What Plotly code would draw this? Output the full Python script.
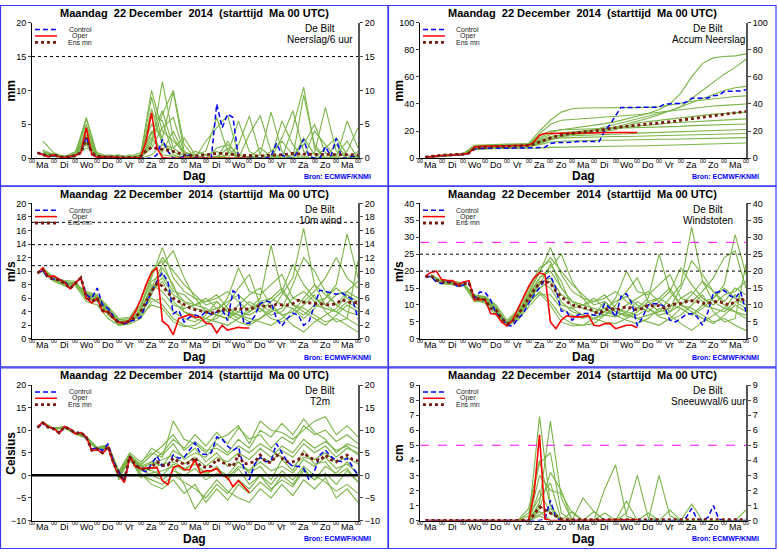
import numpy as np
import plotly.graph_objects as go

# tijdas in dagen na Ma 22 dec 00 UTC
T6 = np.arange(1, 61) * 0.25     # control / oper / ens mn (6-uurs)
T12 = np.arange(1, 31) * 0.5     # ensembleleden (12-uurs)

DAGEN = ['Ma', 'Di', 'Wo', 'Do', 'Vr', 'Za', 'Zo', 'Ma', 'Di', 'Wo', 'Do', 'Vr', 'Za', 'Zo', 'Ma']
UUR_LABELS = ['00'] * 16

# ---- Neerslag/6 uur (mm)
NEERSLAG_CONTROL = [0.8, 0.6, 0.2, 0.4, 0.2, 0.1, 0.2, 0.4, 0.9, 3.2,
                    0.6, 0.3, 0.2, 0.2, 0.1, 0.1, 0.0, 0.0, 0.0, 0.0,
                    0.0, 0.0, 0.5, 2.8, 1.0, 0.0, 0.0, 0.3, 0.5, 0.1,
                    0.0, 0.0, 0.0, 8.0, 4.5, 6.5, 6.0, 0.0, 0.0, 0.0,
                    0.0, 0.0, 0.0, 0.3, 2.2, 0.5, 0.0, 0.0, 1.0, 2.8,
                    0.2, 0.0, 0.0, 1.7, 0.3, 2.9, 0.0, 0.0, 0.3, 0.2]
NEERSLAG_OPER = [0.8, 0.5, 0.2, 0.5, 0.2, 0.1, 0.2, 0.4, 0.8, 4.5,
                 0.5, 0.1, 0.2, 0.2, 0.1, 0.1, 0.0, 0.0, 0.0, 0.1,
                 2.5, 6.7, 1.5, 0.1, 0.0, 0.0, 0.0, 0.0, 0.0, 0.0,
                 0.0, 0.0, 0.0, 0.1, 0.1, 0.1, 0.0, 0.0, 0.0, 0.0]
NEERSLAG_ENSMN = [0.8, 0.6, 0.3, 0.5, 0.2, 0.1, 0.2, 0.4, 0.8, 3.0,
                  0.8, 0.3, 0.2, 0.2, 0.2, 0.2, 0.1, 0.1, 0.1, 0.3,
                  1.1, 1.6, 1.5, 1.3, 1.2, 1.0, 0.7, 0.5, 0.4, 0.3,
                  0.4, 0.5, 0.7, 0.7, 0.7, 0.6, 0.5, 0.4, 0.4, 0.4,
                  0.3, 0.3, 0.4, 0.4, 0.5, 0.5, 0.6, 0.7, 0.6, 0.6,
                  0.5, 0.6, 0.6, 0.5, 0.5, 0.6, 0.5, 0.5, 0.5, 0.5]
NEERSLAG_LEDEN = [
    [0.8, 0.6, 0.2, 0.5, 4.0, 0.2, 0.1, 0.0, 0.0, 0.2, 3.5, 7.0, 1.5, 0.3, 0.0, 0.0, 1.5, 2.0, 0.5, 0.0, 0.0, 1.0, 2.5, 0.5, 0.0, 0.0, 1.5, 3.0, 0.5, 0.2],
    [1.0, 0.4, 0.3, 0.8, 6.0, 0.5, 0.3, 0.2, 0.1, 0.5, 10.0, 4.0, 2.5, 1.0, 0.2, 0.0, 0.0, 0.5, 5.5, 1.0, 0.0, 0.0, 0.0, 4.5, 10.5, 1.5, 0.0, 0.0, 0.0, 0.0],
    [0.5, 0.7, 0.1, 0.3, 2.5, 0.4, 0.0, 0.0, 0.5, 0.0, 7.3, 2.0, 1.0, 0.0, 0.0, 0.5, 1.0, 0.0, 0.0, 0.3, 0.0, 0.0, 0.0, 0.5, 2.0, 5.0, 0.8, 0.0, 1.0, 4.5],
    [0.7, 0.3, 0.0, 0.2, 3.5, 0.1, 0.3, 0.5, 0.0, 0.0, 2.0, 11.3, 3.0, 0.5, 0.0, 0.0, 0.0, 0.0, 0.0, 0.0, 1.5, 0.3, 0.0, 0.0, 0.0, 0.0, 0.0, 0.5, 2.5, 0.0],
    [2.5, 0.8, 0.2, 1.0, 5.0, 0.3, 0.0, 0.0, 0.3, 0.8, 5.0, 3.0, 9.8, 1.0, 0.0, 0.0, 0.0, 2.5, 0.0, 0.0, 0.0, 0.0, 0.5, 0.0, 0.0, 0.8, 7.5, 1.0, 0.0, 0.3],
    [0.4, 0.2, 0.1, 0.5, 2.0, 0.0, 0.5, 0.3, 0.0, 0.1, 1.5, 4.5, 6.0, 0.8, 0.5, 1.0, 6.0, 1.0, 0.0, 0.0, 0.5, 6.8, 1.0, 0.0, 0.0, 0.0, 0.0, 0.0, 0.0, 1.0],
    [0.6, 0.5, 0.2, 0.4, 1.5, 0.8, 0.2, 0.0, 0.0, 0.5, 4.0, 0.5, 0.2, 0.0, 1.0, 0.5, 0.0, 0.0, 0.0, 3.5, 6.3, 1.0, 0.0, 0.0, 9.3, 2.0, 0.0, 0.0, 0.0, 0.0],
    [0.9, 0.4, 0.1, 0.2, 3.0, 0.2, 0.1, 0.4, 0.2, 0.3, 6.5, 5.5, 0.5, 0.0, 0.0, 0.0, 0.0, 0.0, 0.0, 0.0, 0.0, 0.0, 3.0, 7.0, 1.0, 0.0, 0.0, 0.0, 5.5, 1.5],
    [0.3, 0.6, 0.0, 0.7, 2.2, 0.3, 0.2, 0.0, 0.0, 0.0, 0.5, 2.0, 1.5, 3.0, 0.5, 0.0, 0.3, 0.0, 2.0, 6.2, 0.5, 0.0, 0.0, 0.0, 0.0, 0.0, 0.0, 0.0, 0.0, 0.0],
    [0.5, 0.3, 0.3, 0.3, 4.5, 0.6, 0.0, 0.0, 0.0, 0.2, 9.0, 2.5, 0.0, 0.0, 0.0, 0.0, 0.0, 1.5, 0.0, 0.0, 0.0, 0.0, 0.0, 0.0, 3.0, 0.5, 0.0, 2.0, 0.0, 0.0],
    [1.2, 0.5, 0.2, 0.6, 3.2, 0.2, 0.3, 0.0, 0.0, 0.0, 2.5, 6.5, 10.0, 2.0, 0.0, 0.0, 0.0, 0.0, 0.0, 0.0, 0.0, 0.0, 0.0, 0.0, 0.0, 4.0, 2.0, 0.0, 0.0, 0.0],
    [0.6, 0.7, 0.1, 0.3, 5.8, 0.4, 0.0, 0.0, 0.0, 0.0, 3.0, 1.0, 4.0, 0.5, 0.0, 2.5, 4.5, 6.3, 0.5, 0.0, 0.0, 0.0, 5.5, 2.0, 0.0, 0.0, 0.0, 0.0, 0.0, 0.0],
]

# ---- Accum Neerslag (mm)
ACCUM_CONTROL = [0.8, 1.2, 1.4, 1.8, 2.0, 2.1, 2.3, 2.7, 3.5, 6.7,
                 7.2, 7.3, 7.4, 7.5, 7.5, 7.5, 7.5, 7.5, 7.5, 7.5,
                 7.5, 7.5, 8.0, 10.8, 11.5, 11.5, 11.5, 11.8, 12.3, 12.4,
                 12.4, 12.4, 12.4, 20.4, 24.9, 31.4, 37.4, 37.4, 37.4, 37.4,
                 37.4, 37.4, 37.4, 37.7, 39.9, 40.4, 40.4, 40.4, 41.4, 44.2,
                 44.4, 44.4, 44.4, 46.1, 46.4, 49.3, 49.3, 49.3, 49.6, 50.5]
ACCUM_OPER = [0.8, 1.3, 1.5, 2.0, 2.2, 2.3, 2.5, 2.9, 3.7, 8.2,
              8.7, 8.8, 9.0, 9.2, 9.3, 9.4, 9.4, 9.4, 9.4, 9.5,
              12.0, 17.0, 18.2, 18.3, 18.3, 18.3, 18.3, 18.4, 18.5, 18.5,
              18.6, 18.7, 18.8, 18.8, 18.9, 19.0, 19.0, 19.0, 19.0, 19.0]
ACCUM_ENSMN = [0.8, 1.4, 1.7, 2.2, 2.4, 2.5, 2.7, 3.1, 3.9, 6.9,
               7.7, 8.0, 8.2, 8.4, 8.6, 8.8, 8.9, 9.0, 9.1, 9.4,
               10.5, 12.1, 13.6, 14.9, 16.1, 17.1, 17.8, 18.3, 18.7, 19.0,
               19.4, 19.9, 20.6, 21.3, 22.0, 22.6, 23.1, 23.5, 23.9, 24.3,
               24.6, 24.9, 25.3, 25.7, 26.2, 26.7, 27.3, 28.0, 28.6, 29.2,
               29.7, 30.3, 30.9, 31.4, 31.9, 32.5, 33.0, 33.5, 34.0, 34.5]
ACCUM_LEDEN = [
    [1.0, 1.5, 2.0, 2.8, 6.5, 7.0, 7.0, 7.2, 7.2, 7.3, 7.5, 8.0, 8.2, 8.3, 8.3, 8.5, 8.5, 8.8, 9.0, 9.0, 9.2, 9.5, 9.8, 10.0, 10.2, 10.4, 10.6, 10.8, 11.0, 11.2],
    [1.2, 1.8, 2.2, 3.0, 7.5, 8.0, 8.0, 8.2, 8.2, 8.5, 10.0, 12.0, 12.5, 12.8, 13.0, 13.0, 13.2, 13.2, 13.5, 13.5, 13.8, 14.0, 14.0, 14.2, 14.5, 14.5, 14.8, 15.0, 15.0, 15.2],
    [0.8, 1.6, 2.0, 2.6, 7.0, 7.5, 7.8, 8.0, 8.0, 8.2, 12.0, 14.0, 15.0, 15.3, 15.5, 15.5, 15.8, 16.0, 16.0, 16.2, 16.5, 16.8, 17.0, 17.0, 17.2, 17.5, 17.8, 18.0, 18.0, 18.2],
    [1.0, 1.5, 1.8, 2.5, 8.0, 8.5, 8.8, 8.8, 9.0, 9.2, 11.0, 13.5, 16.0, 16.5, 16.8, 17.0, 17.0, 17.5, 18.0, 18.5, 18.8, 19.0, 19.2, 19.5, 20.0, 20.2, 20.5, 20.8, 21.0, 21.2],
    [1.5, 2.0, 2.5, 3.5, 9.0, 9.5, 9.5, 9.8, 10.0, 10.5, 17.0, 20.0, 21.0, 21.2, 21.5, 21.5, 21.8, 22.0, 22.0, 22.3, 22.5, 22.8, 23.0, 23.5, 24.0, 24.3, 24.5, 24.8, 25.0, 25.2],
    [1.2, 1.8, 2.2, 3.2, 8.5, 9.0, 9.2, 9.2, 9.5, 9.8, 14.0, 17.5, 19.0, 19.5, 19.8, 20.0, 21.0, 22.5, 23.0, 23.5, 24.0, 25.0, 26.0, 26.5, 27.0, 27.5, 28.0, 28.5, 28.8, 29.0],
    [0.9, 1.4, 2.0, 2.8, 7.8, 8.2, 8.5, 8.5, 8.8, 9.0, 13.0, 16.0, 17.0, 17.5, 18.0, 18.5, 20.0, 21.0, 24.0, 26.0, 27.0, 28.0, 29.0, 29.5, 31.0, 32.0, 32.5, 33.0, 33.5, 34.0],
    [1.1, 1.7, 2.3, 3.0, 8.2, 8.8, 9.0, 9.2, 9.5, 9.8, 18.0, 25.0, 28.0, 28.5, 29.0, 29.5, 30.0, 30.5, 31.0, 32.0, 33.0, 34.0, 35.0, 35.5, 36.5, 37.5, 38.5, 39.0, 39.5, 40.0],
    [1.3, 1.9, 2.5, 3.3, 9.5, 10.0, 10.2, 10.5, 10.5, 11.0, 20.0, 28.0, 34.0, 36.5, 37.0, 37.0, 37.0, 37.0, 37.0, 37.2, 37.5, 38.0, 39.0, 40.5, 42.0, 43.0, 44.0, 44.5, 45.5, 46.0],
    [1.0, 1.6, 2.1, 2.9, 8.0, 8.5, 8.8, 9.0, 9.2, 9.5, 12.5, 15.0, 17.5, 19.0, 20.0, 21.0, 23.0, 25.0, 27.0, 29.0, 31.0, 33.0, 35.0, 38.0, 41.0, 44.0, 47.0, 50.0, 52.0, 53.0],
    [0.8, 1.3, 1.8, 2.5, 7.2, 7.8, 8.0, 8.0, 8.2, 8.5, 11.0, 14.0, 16.0, 18.0, 19.0, 20.0, 21.5, 23.0, 25.0, 27.0, 29.5, 32.0, 35.0, 38.0, 44.0, 50.0, 56.0, 62.0, 67.0, 73.0],
    [1.4, 2.0, 2.6, 3.4, 9.0, 9.5, 9.8, 10.0, 10.2, 10.5, 15.0, 19.0, 21.0, 22.0, 23.0, 24.0, 25.5, 27.0, 29.0, 31.0, 33.0, 36.0, 40.0, 48.0, 60.0, 70.0, 74.0, 75.0, 75.5, 77.0],
]

# ---- 10m wind (m/s)
WIND_CONTROL = [9.8, 10.0, 9.0, 8.9, 8.7, 8.5, 7.5, 8.3, 9.0, 6.5,
                6.0, 7.5, 5.0, 4.5, 3.3, 2.5, 2.2, 2.6, 2.8, 3.2,
                5.0, 7.0, 8.5, 9.8, 8.5, 3.7, 4.2, 2.5, 3.2, 3.5,
                3.3, 4.0, 3.6, 4.0, 4.3, 2.7, 7.1, 6.5, 2.3, 2.3,
                3.4, 5.2, 5.6, 5.4, 3.0, 1.9, 3.0, 3.8, 3.5, 2.0,
                2.6, 5.0, 7.2, 7.0, 6.8, 6.6, 6.8, 6.3, 5.8, 3.0]
WIND_OPER = [9.7, 10.5, 9.2, 9.3, 8.8, 8.3, 7.4, 8.3, 9.0, 6.0,
             5.3, 6.0, 4.0, 4.0, 3.0, 2.4, 2.4, 2.8, 4.0, 5.8,
             8.0, 9.8, 10.5, 2.6, 2.0, 0.6, 3.0, 3.3, 3.6, 3.2,
             3.2, 2.3, 2.2, 0.9, 2.0, 1.3, 1.5, 1.7, 1.6, 1.6]
WIND_ENSMN = [9.7, 10.2, 9.0, 8.8, 8.7, 8.2, 7.4, 8.2, 9.0, 6.3,
              5.5, 6.0, 4.2, 4.0, 3.0, 2.4, 2.4, 2.6, 3.2, 4.0,
              5.5, 7.0, 8.2, 7.8, 6.8, 6.0, 5.5, 5.0, 4.6, 4.3,
              4.2, 4.0, 3.8, 4.0, 4.4, 4.2, 4.3, 4.6, 4.3, 4.4,
              4.6, 5.0, 4.8, 4.8, 5.1, 5.0, 5.0, 5.2, 5.7, 5.4,
              5.3, 5.3, 5.2, 5.1, 5.0, 5.2, 5.8, 5.5, 5.3, 5.4]
WIND_LEDEN = [
    [10.0, 8.6, 8.0, 8.0, 6.5, 6.2, 4.5, 2.8, 3.0, 5.0, 8.5, 9.5, 7.0, 6.5, 5.0, 4.5, 3.5, 3.0, 5.0, 6.5, 7.5, 5.0, 3.5, 4.0, 6.0, 8.0, 6.5, 5.0, 7.0, 6.0],
    [10.3, 9.0, 8.3, 8.3, 6.0, 5.5, 3.8, 2.2, 2.5, 3.5, 6.5, 10.5, 8.0, 4.0, 3.0, 2.5, 3.0, 4.5, 3.5, 2.5, 3.0, 4.0, 6.5, 9.0, 16.3, 8.0, 5.0, 4.0, 3.0, 2.0],
    [10.5, 8.9, 8.5, 8.1, 7.0, 6.5, 4.2, 2.5, 2.4, 4.5, 9.0, 13.5, 9.0, 7.0, 6.0, 5.5, 6.0, 7.0, 5.5, 4.0, 5.0, 6.0, 5.0, 4.5, 3.0, 4.5, 6.0, 8.0, 15.5, 9.0],
    [9.8, 8.7, 8.1, 8.4, 5.8, 5.8, 4.0, 2.0, 2.2, 3.0, 5.5, 6.0, 4.0, 3.0, 2.5, 3.5, 5.5, 4.0, 3.0, 4.5, 6.0, 13.8, 7.0, 5.0, 4.0, 3.0, 2.0, 3.5, 5.0, 4.0],
    [10.1, 8.8, 8.0, 8.0, 6.8, 6.3, 4.5, 2.6, 2.8, 4.2, 7.5, 11.0, 13.0, 9.0, 6.0, 4.0, 3.5, 3.0, 4.0, 5.5, 4.5, 3.0, 2.5, 3.5, 5.0, 6.5, 4.0, 2.5, 3.0, 11.5],
    [10.4, 9.1, 8.6, 8.5, 6.2, 5.9, 3.5, 2.3, 2.5, 3.8, 6.0, 5.0, 3.0, 2.0, 1.5, 2.0, 3.5, 5.0, 7.5, 9.5, 5.0, 4.0, 4.5, 8.0, 12.0, 10.0, 7.0, 5.0, 4.0, 3.5],
    [9.9, 8.5, 7.8, 7.8, 5.5, 5.0, 3.0, 2.0, 2.4, 4.0, 8.0, 7.0, 5.0, 4.5, 5.0, 6.0, 4.5, 3.5, 2.5, 2.0, 3.0, 4.5, 3.5, 2.0, 1.0, 2.5, 3.5, 4.5, 6.5, 5.5],
    [10.2, 8.8, 8.4, 8.2, 6.6, 6.4, 4.8, 3.0, 3.2, 5.5, 10.0, 11.5, 7.5, 5.5, 4.5, 4.0, 4.5, 5.5, 6.5, 5.0, 4.0, 5.5, 7.0, 11.0, 8.0, 6.0, 5.0, 6.5, 7.0, 8.5],
    [10.0, 8.6, 8.2, 8.0, 6.0, 5.7, 3.6, 2.4, 2.6, 4.2, 7.0, 8.5, 5.5, 4.0, 3.5, 3.0, 2.5, 2.0, 3.0, 4.0, 5.5, 6.0, 7.5, 5.0, 4.5, 3.5, 2.5, 3.0, 2.0, 1.0],
    [10.3, 9.0, 8.3, 8.3, 6.3, 6.0, 4.2, 2.5, 2.6, 3.5, 5.0, 4.5, 2.5, 1.8, 2.0, 3.0, 4.0, 6.0, 10.5, 7.0, 6.5, 8.0, 9.5, 6.0, 5.5, 7.0, 9.0, 12.0, 9.0, 7.5],
    [10.1, 8.7, 8.1, 8.1, 6.4, 6.1, 4.0, 2.3, 2.8, 4.8, 9.5, 12.0, 10.0, 8.0, 6.5, 5.0, 5.5, 4.0, 3.5, 3.0, 2.5, 2.0, 3.0, 4.5, 3.5, 5.0, 4.5, 4.0, 5.5, 4.5],
    [10.2, 8.8, 8.2, 8.2, 6.2, 6.0, 3.9, 2.6, 2.5, 4.0, 7.5, 9.0, 6.5, 5.5, 5.0, 5.5, 6.5, 4.5, 4.0, 3.5, 4.5, 3.5, 4.0, 6.0, 7.0, 5.5, 6.0, 7.5, 6.0, 5.0],
]

# ---- Windstoten (m/s)
STOOT_CONTROL = [18.3, 18.4, 16.8, 16.3, 16.8, 16.8, 15.3, 16.0, 16.5, 11.8,
                 13.8, 13.7, 11.5, 7.5, 6.5, 4.0, 3.8, 5.8, 7.5, 10.5,
                 13.0, 15.0, 17.5, 18.7, 15.0, 8.2, 8.0, 5.5, 7.0, 7.5,
                 7.5, 7.0, 7.0, 10.5, 9.0, 6.5, 12.5, 13.3, 10.5, 3.8,
                 6.5, 10.0, 10.4, 10.3, 9.5, 5.5, 5.0, 6.0, 7.2, 7.5,
                 6.5, 4.0, 8.0, 13.5, 14.0, 14.3, 12.8, 12.0, 14.0, 8.0]
STOOT_OPER = [18.5, 19.6, 20.0, 17.5, 17.3, 17.2, 16.0, 16.8, 17.2, 11.5,
              11.7, 11.5, 7.5, 7.3, 5.0, 3.8, 5.5, 9.0, 12.5, 15.5,
              18.0, 19.5, 19.0, 5.0, 3.0, 5.5, 6.8, 6.5, 6.5, 6.5,
              7.0, 4.0, 3.8, 4.5, 4.5, 3.0, 3.5, 4.0, 4.0, 3.3]
STOOT_ENSMN = [18.3, 18.6, 17.3, 16.8, 16.8, 16.6, 15.5, 16.2, 16.6, 12.0,
               11.8, 11.5, 9.0, 8.5, 6.0, 4.5, 5.0, 7.0, 9.5, 12.0,
               14.5, 16.5, 17.0, 16.5, 14.0, 12.5, 11.0, 10.0, 9.5, 9.2,
               9.0, 8.0, 7.5, 8.5, 9.0, 8.5, 9.0, 9.5, 9.0, 8.5,
               9.0, 10.0, 9.7, 9.8, 9.0, 10.0, 10.3, 10.5, 11.0, 11.3,
               11.0, 10.5, 10.5, 11.0, 11.0, 10.5, 10.0, 11.0, 12.0, 11.0]
STOOT_LEDEN = [
    [18.5, 16.5, 16.4, 16.0, 12.5, 12.0, 9.0, 5.0, 8.0, 13.0, 18.0, 20.0, 15.0, 11.0, 10.0, 9.0, 8.0, 7.0, 10.0, 12.0, 14.0, 11.0, 8.0, 10.0, 13.0, 17.0, 14.0, 11.0, 15.0, 13.0],
    [18.8, 17.0, 16.8, 16.5, 11.5, 11.0, 8.0, 4.0, 6.5, 11.0, 16.0, 22.0, 17.0, 9.0, 7.0, 6.0, 7.0, 9.0, 7.5, 6.0, 7.0, 8.0, 12.0, 16.0, 33.0, 17.0, 11.0, 9.0, 8.0, 6.0],
    [19.0, 16.8, 16.8, 16.3, 13.0, 12.5, 9.5, 4.5, 6.5, 13.5, 19.5, 27.0, 19.0, 14.0, 12.0, 11.0, 12.0, 14.0, 11.0, 9.0, 10.0, 12.0, 10.0, 9.0, 7.0, 9.0, 12.0, 16.0, 30.8, 19.0],
    [18.3, 16.6, 16.3, 16.4, 11.0, 11.2, 8.5, 3.8, 5.5, 9.5, 13.0, 13.0, 9.0, 7.0, 6.0, 7.0, 11.0, 8.0, 6.5, 9.0, 12.0, 25.0, 14.0, 10.0, 8.0, 6.0, 4.5, 7.0, 10.0, 8.0],
    [18.6, 16.9, 16.5, 16.1, 12.8, 12.2, 9.0, 4.8, 7.5, 12.5, 18.0, 21.0, 25.0, 17.0, 12.0, 8.0, 7.0, 6.5, 8.0, 11.0, 9.0, 6.5, 5.5, 7.0, 10.0, 13.0, 8.0, 5.0, 6.0, 22.0],
    [18.9, 17.2, 16.9, 16.6, 12.2, 11.8, 7.5, 4.2, 6.0, 10.5, 14.0, 11.0, 6.5, 4.5, 4.0, 4.5, 7.0, 10.0, 14.0, 18.0, 11.0, 8.0, 9.0, 15.0, 23.0, 19.0, 14.0, 10.0, 8.0, 7.0],
    [18.2, 16.3, 16.0, 15.8, 11.5, 10.5, 7.0, 4.0, 6.8, 12.0, 17.0, 15.0, 10.0, 9.0, 10.0, 12.0, 9.0, 7.0, 5.5, 4.5, 6.0, 9.0, 7.0, 4.5, 2.5, 5.0, 7.0, 9.0, 13.0, 11.0],
    [18.7, 16.8, 16.7, 16.3, 12.6, 12.4, 10.0, 5.5, 8.5, 15.0, 21.0, 23.0, 15.0, 11.0, 9.0, 8.0, 9.0, 11.0, 12.5, 10.0, 8.0, 11.0, 14.0, 21.0, 16.0, 12.0, 10.0, 13.0, 14.0, 17.0],
    [18.4, 16.6, 16.4, 15.9, 11.8, 11.0, 8.0, 4.5, 7.0, 12.0, 15.0, 17.0, 11.0, 8.0, 7.0, 6.0, 5.0, 4.5, 6.0, 8.0, 11.0, 12.0, 15.0, 10.0, 9.0, 7.0, 5.0, 6.0, 4.0, 2.5],
    [18.6, 17.0, 16.6, 16.4, 12.0, 11.5, 8.5, 4.5, 6.8, 11.0, 13.5, 10.0, 5.0, 3.8, 4.0, 6.0, 8.0, 12.0, 20.0, 14.0, 13.0, 16.0, 19.0, 12.0, 11.0, 14.0, 18.0, 24.0, 26.0, 15.0],
    [18.5, 16.7, 16.5, 16.2, 12.4, 12.0, 9.0, 4.5, 7.5, 14.0, 20.0, 24.0, 20.0, 16.0, 13.0, 10.0, 11.0, 8.0, 7.0, 6.0, 5.0, 4.0, 6.0, 9.0, 7.0, 10.0, 9.0, 8.0, 11.0, 9.0],
    [18.7, 16.9, 16.6, 16.2, 12.1, 11.8, 8.2, 4.8, 7.0, 11.5, 16.5, 18.0, 13.0, 11.0, 10.0, 11.0, 13.0, 9.0, 8.0, 7.0, 9.0, 7.0, 8.0, 12.0, 14.0, 11.0, 12.0, 15.0, 12.0, 10.0],
]

# ---- T2m (Celsius)
T2M_CONTROL = [10.6, 11.5, 10.7, 10.4, 9.5, 10.7, 10.2, 9.3, 9.5, 8.3,
               5.8, 6.1, 5.5, 7.0, 3.0, 0.8, -1.3, 4.0, 2.3, 1.3,
               0.8, 2.5, 4.3, 2.0, 2.2, 4.5, 3.8, 4.0, 5.5, 7.2,
               4.8, 4.6, 5.0, 8.5, 8.0, 6.5, 5.5, 6.3, 1.5, -1.0,
               2.5, 4.0, 3.0, 3.2, 7.0, 5.0, 3.0, 2.0, 2.0, 1.5,
               -1.0, 1.0, 4.5, 5.6, 4.2, 3.3, 3.0, 3.8, 2.0, 0.0]
T2M_OPER = [10.7, 11.8, 10.7, 10.4, 9.3, 10.8, 10.3, 9.2, 9.4, 8.5,
            5.5, 5.7, 4.8, 6.3, 2.5, 0.0, -1.6, 4.2, 2.0, 1.5,
            1.6, 1.7, 1.7, -1.2, -2.0, 1.7, 2.2, 1.3, 1.2, 3.5,
            0.5, 1.0, 1.0, 1.5, 0.0, -0.5, -2.5, -1.2, -2.5, -3.8]
T2M_ENSMN = [10.6, 11.6, 10.6, 10.3, 9.4, 10.7, 10.2, 9.3, 9.5, 8.4,
             5.6, 5.9, 5.0, 6.4, 2.8, 0.3, -1.0, 4.2, 2.3, 1.5,
             1.3, 1.8, 3.0, 2.2, 2.2, 3.8, 3.0, 2.5, 2.8, 4.0,
             2.0, 1.8, 2.0, 3.6, 2.8, 2.5, 2.0, 4.6, 2.5, 2.8,
             3.0, 4.5, 3.0, 2.8, 4.5, 3.8, 3.0, 3.0, 3.5, 5.0,
             4.0, 3.5, 3.3, 4.5, 3.5, 3.0, 4.0, 4.5, 3.5, 3.2]
T2M_LEDEN = [
    [11.5, 10.2, 10.6, 9.2, 8.5, 6.0, 6.5, 0.5, 4.0, 1.0, 3.0, 5.0, 8.0, 6.0, 9.0, 6.5, 9.5, 7.0, 10.5, 8.0, 9.0, 6.0, 8.5, 7.0, 11.0, 9.0, 10.0, 7.5, 9.0, 7.0],
    [11.7, 10.4, 10.8, 9.4, 8.3, 5.8, 6.2, -0.5, 3.5, 0.0, -1.0, -2.0, 0.0, -1.5, -3.0, -5.0, -2.0, -4.0, -1.0, -3.0, 0.0, -2.0, 1.0, -1.0, 2.0, 0.0, -1.5, -3.5, -2.0, -4.0],
    [11.6, 10.3, 10.8, 9.3, 8.6, 6.2, 6.8, 1.0, 5.0, 3.0, 5.0, 4.0, 12.0, 8.0, 7.0, 5.0, 8.0, 9.0, 11.0, 7.0, 12.0, 10.0, 9.5, 8.0, 10.0, 12.0, 13.0, 9.0, 11.0, 8.5],
    [11.4, 10.1, 10.5, 9.1, 8.2, 5.6, 6.0, -1.0, 4.0, -0.5, 0.5, 1.0, 2.0, -2.0, -7.5, -4.0, -1.0, -3.5, -5.0, -6.0, -3.0, -5.0, -2.0, -4.5, -1.0, -3.0, -0.5, -5.0, -3.0, -6.0],
    [11.8, 10.4, 10.7, 9.4, 8.4, 5.9, 6.5, 0.0, 4.5, 2.0, 3.0, 2.0, 5.5, 4.0, 6.0, 3.0, 5.0, 2.0, 3.0, 1.0, 4.0, 3.0, 5.5, 4.0, 7.0, 5.0, 6.5, 4.0, 6.0, 5.0],
    [11.5, 10.2, 10.6, 9.2, 8.3, 5.7, 6.3, 0.5, 4.0, 1.5, 1.0, 0.0, 2.5, 1.0, 3.0, 0.0, 2.0, -1.0, 1.5, -2.0, 0.0, -3.0, -1.0, -2.5, 1.0, -1.0, 2.0, 0.5, 3.0, 0.0],
    [11.7, 10.3, 10.7, 9.3, 8.5, 6.1, 6.6, 0.8, 4.5, 2.5, 6.0, 4.5, 7.0, 3.5, 5.0, 4.0, 7.0, 5.0, 8.0, 6.0, 10.0, 8.5, 11.5, 9.0, 12.5, 9.5, 8.0, 5.0, 7.0, 6.0],
    [11.6, 10.2, 10.5, 9.2, 8.4, 5.8, 6.4, 0.2, 3.8, 0.5, -2.0, -3.0, -1.0, -4.0, -2.0, -6.0, -3.0, -5.5, -2.0, -4.0, -1.5, -3.5, 0.0, -2.0, 1.5, -1.0, 0.5, -2.0, 1.0, -1.5],
    [11.5, 10.3, 10.8, 9.4, 8.3, 6.0, 6.4, 0.4, 4.3, 1.8, 2.5, 3.5, 4.5, 2.5, 4.0, 2.0, 4.0, 3.0, 5.0, 3.5, 6.0, 4.0, 6.5, 5.0, 8.0, 6.0, 7.5, 5.5, 6.5, 4.5],
    [11.7, 10.4, 10.6, 9.3, 8.5, 5.9, 6.3, 0.0, 4.6, 1.2, 0.0, -1.0, 1.0, 0.0, 1.5, -1.0, 0.5, -0.5, 2.0, 1.0, 3.0, 1.0, 2.0, 0.5, 3.5, 2.0, 4.0, 1.5, 2.5, 0.5],
    [11.6, 10.3, 10.6, 9.3, 8.4, 6.1, 6.5, 0.6, 4.1, 2.2, 4.5, 6.5, 9.0, 5.5, 7.5, 5.5, 6.0, 4.5, 6.5, 5.0, 7.0, 5.5, 4.0, 2.0, 4.0, 3.5, 5.0, 3.0, 4.0, 2.5],
    [11.5, 10.2, 10.7, 9.2, 8.2, 5.8, 6.2, -0.3, 3.9, 1.0, 1.5, 2.5, 3.0, 1.5, 2.5, 0.5, 1.5, 0.0, 3.0, 0.5, 2.0, -1.0, 3.5, 1.0, 5.5, 2.5, 3.0, 0.0, 1.5, -1.5],
]

# ---- Sneeuwval/6 uur (cm)
SNEEUW_CONTROL = [0, 0, 0, 0, 0, 0, 0, 0, 0, 0,
                  0, 0, 0, 0, 0, 0, 0, 0, 0, 0,
                  0, 0, 0.1, 1.35, 0.2, 0, 0, 0, 0, 0,
                  0, 0, 0, 0, 0, 0, 0, 0, 0, 0,
                  0, 0, 0, 0, 0, 0, 0, 0, 0.2, 0.8,
                  0.1, 0, 0.2, 1.0, 0.1, 0, 0, 0, 0, 0]
SNEEUW_OPER = [0, 0, 0, 0, 0, 0, 0, 0, 0, 0,
               0, 0, 0, 0, 0, 0, 0, 0, 0, 0,
               1.8, 5.7, 0.1, 0, 0, 0, 0, 0, 0.05, 0.05,
               0.05, 0.05, 0.05, 0.05, 0.05, 0.05, 0.05, 0.05, 0.05, 0.05]
SNEEUW_ENSMN = [0, 0, 0, 0, 0, 0, 0, 0, 0, 0,
                0, 0, 0, 0, 0, 0, 0, 0, 0, 0,
                0.4, 0.9, 0.7, 0.5, 0.3, 0.1, 0.05, 0.05, 0.05, 0.05,
                0.05, 0.05, 0.05, 0.05, 0.05, 0.05, 0.05, 0.05, 0.05, 0.05,
                0.05, 0.05, 0.05, 0.05, 0.05, 0.05, 0.05, 0.05, 0.05, 0.05,
                0.05, 0.05, 0.05, 0.05, 0.05, 0.05, 0.05, 0.05, 0.05, 0.05]
SNEEUW_LEDEN = [
    [0, 0, 0, 0, 0, 0, 0, 0, 0, 0, 6.9, 1.0, 0, 0, 0, 0, 0, 0, 0, 0, 0, 0, 0, 0, 0, 0, 0, 0, 0, 0],
    [0, 0, 0, 0, 0, 0, 0, 0, 0, 0, 1.2, 6.6, 1.5, 0, 0, 0, 0, 0, 0, 0, 0, 0, 0, 0, 0, 0, 0, 0, 0, 0],
    [0, 0, 0, 0, 0, 0, 0, 0, 0, 0.5, 3.8, 4.5, 0.5, 0, 0, 0, 0, 0, 0, 0, 0, 0, 0, 0, 0, 0, 0, 0, 0, 0],
    [0, 0, 0, 0, 0, 0, 0, 0, 0, 0, 3.0, 2.0, 1.8, 0.5, 0, 0, 0, 0, 0, 0, 0, 0, 0, 0, 0, 0, 0, 0, 0, 0],
    [0, 0, 0, 0, 0, 0, 0, 0, 0, 0, 0.8, 3.2, 2.0, 0, 1.5, 0.6, 0, 0, 0, 0, 0, 0, 0, 0, 0, 0, 0, 0, 0, 0],
    [0, 0, 0, 0, 0, 0, 0, 0, 0, 0, 0.3, 0, 0, 0, 0, 0, 2.1, 3.7, 0.3, 0, 0, 0, 0, 0, 0, 0, 0, 0, 0, 0],
    [0, 0, 0, 0, 0, 0, 0, 0, 0, 0, 1.0, 0.5, 0, 0, 0, 0, 0, 0, 0.5, 3.0, 0.2, 0, 0, 0, 0, 0, 0, 0, 0, 0],
    [0, 0, 0, 0, 0, 0, 0, 0, 0, 0, 0.6, 0, 0, 0, 0, 0, 0, 0, 0, 0, 0, 3.0, 0.3, 0, 0, 0, 0, 0, 0, 0],
    [0, 0, 0, 0, 0, 0, 0, 0, 0, 0, 2.0, 0.5, 0, 0, 0, 0, 0, 0, 1.3, 0, 0, 0, 0, 0, 1.1, 0, 0, 0, 0, 0.7],
    [0, 0, 0, 0, 0, 0, 0, 0, 0, 0.3, 1.5, 2.5, 0, 0, 0, 0.6, 0, 0, 0, 0, 0, 0, 0.7, 0, 0, 0, 0, 0, 0, 0],
    [0, 0, 0, 0, 0, 0, 0, 0, 0, 0.8, 4.0, 1.0, 0, 0, 0, 0, 0.5, 0, 0, 0, 0, 0, 0, 0, 0, 0, 0, 0, 0, 0],
    [0, 0, 0, 0, 0, 0, 0, 0, 0, 0, 0.4, 0.8, 0, 0.6, 0, 0, 0, 0, 0, 0, 0.5, 0, 0, 0, 0, 0, 0, 0, 0, 0],
]

# drempellijnen per paneel: (waarde, kleur, stijl)
REF_NEERSLAG = [(15, 'black', 'dot')]
REF_ACCUM = []
REF_WIND = [(10.8, 'black', 'dot'), (13.9, 'black', 'dot'), (17.2, 'black', 'dot')]
REF_STOOT = [(20, 'black', 'dot'), (25, 'black', 'dot'), (28.5, '#ff00ff', 'dash')]
REF_T2M = []
REF_SNEEUW = [(5, '#ff00ff', 'dash')]

TITEL = 'Maandag\u00a0\u00a022 December\u00a0 2014\u00a0\u00a0(starttijd\u00a0 Ma 00 UTC)'
FONT = 'Liberation Sans, Arial, sans-serif'
W, H = 778, 554

panelen = [
    dict(leden=NEERSLAG_LEDEN, control=NEERSLAG_CONTROL, oper=NEERSLAG_OPER, ensmn=NEERSLAG_ENSMN,
         yr=[0, 20], dt=5, eenheid='mm', naam='Neerslag/6 uur', ref=REF_NEERSLAG),
    dict(leden=ACCUM_LEDEN, control=ACCUM_CONTROL, oper=ACCUM_OPER, ensmn=ACCUM_ENSMN,
         yr=[0, 100], dt=20, eenheid='mm', naam='Accum Neerslag', ref=REF_ACCUM),
    dict(leden=WIND_LEDEN, control=WIND_CONTROL, oper=WIND_OPER, ensmn=WIND_ENSMN,
         yr=[0, 20], dt=2, eenheid='m/s', naam='10m wind', ref=REF_WIND),
    dict(leden=STOOT_LEDEN, control=STOOT_CONTROL, oper=STOOT_OPER, ensmn=STOOT_ENSMN,
         yr=[0, 40], dt=5, eenheid='m/s', naam='Windstoten', ref=REF_STOOT),
    dict(leden=T2M_LEDEN, control=T2M_CONTROL, oper=T2M_OPER, ensmn=T2M_ENSMN,
         yr=[-10, 20], dt=5, eenheid='Celsius', naam='T2m', ref=REF_T2M),
    dict(leden=SNEEUW_LEDEN, control=SNEEUW_CONTROL, oper=SNEEUW_OPER, ensmn=SNEEUW_ENSMN,
         yr=[0, 9], dt=1, eenheid='cm', naam='Sneeuwval/6 uur', ref=REF_SNEEUW),
]

GROEN = '#7ab547'
BLAUW_STREEP = '5px,3px'


def px(x):
    return x / W


def py(y):
    return 1 - y / H


fig = go.Figure()
layout = dict(width=W, height=H, margin=dict(l=0, r=0, t=0, b=0),
              paper_bgcolor='white', plot_bgcolor='white', showlegend=False,
              font=dict(family=FONT, color='black'))
shapes, annotations = [], []

for i, p in enumerate(panelen):
    n = i + 1
    ox = 0 if i % 2 == 0 else 388
    oy = [0, 184, 369][i // 2]
    xs = '' if n == 1 else str(n)
    xref, yref, yref2 = 'x' + xs, 'y' + xs, 'y' + str(n + 6)

    # ensembleleden
    for lid in p['leden']:
        fig.add_trace(go.Scatter(x=T12, y=lid, mode='lines', xaxis=xref, yaxis=yref,
                                 line=dict(color=GROEN, width=1.1), hoverinfo='skip'))
    fig.add_trace(go.Scatter(x=T6, y=p['control'], mode='lines', xaxis=xref, yaxis=yref,
                             line=dict(color='#0000ff', width=1.5, dash=BLAUW_STREEP)))
    fig.add_trace(go.Scatter(x=T6[:len(p['oper'])], y=p['oper'], mode='lines', xaxis=xref, yaxis=yref,
                             line=dict(color='#ff0000', width=1.6)))
    fig.add_trace(go.Scatter(x=T6, y=p['ensmn'], mode='lines', xaxis=xref, yaxis=yref,
                             line=dict(color='#7a1a10', width=2.8, dash='dot')))
    # rechter as
    fig.add_trace(go.Scatter(x=[None], y=[None], xaxis=xref, yaxis=yref2, hoverinfo='skip'))

    dom_x = [px(ox + 32), px(ox + 358)]
    dom_y = [py(oy + 156), py(oy + 18)]
    layout['xaxis' + xs] = dict(domain=dom_x, anchor=yref, range=[0, 15],
                                tickvals=list(range(16)), showticklabels=False, ticks='',
                                showline=True, linecolor='black', linewidth=1,
                                showgrid=False, zeroline=False, fixedrange=True)
    yas = dict(domain=dom_y, anchor=xref, range=p['yr'], dtick=p['dt'],
               ticks='outside', ticklen=3, tickfont=dict(size=9),
               showgrid=False, zeroline=False, fixedrange=True, showline=True)
    layout['yaxis' + xs] = dict(yas, linecolor='black', linewidth=1)
    layout['yaxis' + str(n + 6)] = dict(yas, overlaying=yref, side='right',
                                        linecolor='#555555', linewidth=2)

    for waarde, kleur, stijl in p['ref']:
        shapes.append(dict(type='line', xref=xref + ' domain', yref=yref, x0=0, x1=1,
                           y0=waarde, y1=waarde, line=dict(color=kleur, width=1, dash=stijl)))
    if p['yr'][0] < 0:
        shapes.append(dict(type='line', xref=xref + ' domain', yref=yref, x0=0, x1=1,
                           y0=0, y1=0, line=dict(color='black', width=2.5)))

    # paneelkader
    shapes.append(dict(type='rect', xref='paper', yref='paper',
                       x0=px(ox + 0.5), x1=px(ox + 388), y0=py(oy + 184.5), y1=py(oy + 0.5),
                       line=dict(color='#3a3aff', width=1.2)))

    # legenda
    for k, (kleur, breed, stijl, tekst) in enumerate([('#0000ff', 1.5, BLAUW_STREEP, 'Control'),
                                                      ('#ff0000', 1.5, 'solid', 'Oper'),
                                                      ('#7a1a10', 2.8, 'dot', 'Ens mn')]):
        yy = py(oy + 25 + 6.5 * k)
        shapes.append(dict(type='line', xref='paper', yref='paper', x0=px(ox + 35), x1=px(ox + 57),
                           y0=yy, y1=yy, line=dict(color=kleur, width=breed, dash=stijl)))
        annotations.append(dict(xref='paper', yref='paper', x=px(ox + 80), y=yy, text=tekst,
                                showarrow=False, xanchor='center', yanchor='middle',
                                font=dict(size=7, color='#222222')))

    annotations += [
        dict(xref='paper', yref='paper', x=px(ox + 194), y=py(oy + 8), text='<b>' + TITEL + '</b>',
             showarrow=False, xanchor='center', yanchor='middle', font=dict(size=11)),
        dict(xref='paper', yref='paper', x=px(ox + 320), y=py(oy + 24), text='De Bilt',
             showarrow=False, xanchor='center', yanchor='middle', font=dict(size=10)),
        dict(xref='paper', yref='paper', x=px(ox + 320), y=py(oy + 35), text=p['naam'],
             showarrow=False, xanchor='center', yanchor='middle', font=dict(size=10)),
        dict(xref='paper', yref='paper', x=px(ox + 11), y=py(oy + 88), text='<b>' + p['eenheid'] + '</b>',
             showarrow=False, xanchor='center', yanchor='middle', textangle=-90, font=dict(size=12)),
        dict(xref='paper', yref='paper', x=px(ox + 195), y=py(oy + 174.5), text='<b>Dag</b>',
             showarrow=False, xanchor='center', yanchor='middle', font=dict(size=12)),
        dict(xref='paper', yref='paper', x=px(ox + 373), y=py(oy + 174.5), text='<b>Bron: ECMWF/KNMI</b>',
             showarrow=False, xanchor='right', yanchor='middle', font=dict(size=7, color='#0000ff')),
    ]
    # daglabels en 00-labels langs de tijdas
    for d, dag in enumerate(DAGEN):
        annotations.append(dict(xref=xref, yref='paper', x=d + 0.5, y=py(oy + 162.5), text=dag,
                                showarrow=False, xanchor='center', yanchor='middle',
                                font=dict(size=9)))
    for d, uur in enumerate(UUR_LABELS):
        annotations.append(dict(xref=xref, yref='paper', x=d, y=py(oy + 158.5), text=uur,
                                showarrow=False, xanchor='center', yanchor='middle',
                                font=dict(size=5.5)))

layout['shapes'] = shapes
layout['annotations'] = annotations
fig.update_layout(**layout)

fig.write_html('out.html', config={'displayModeBar': False},
               post_script="document.body.style.margin='0';document.body.style.overflow='hidden';")
